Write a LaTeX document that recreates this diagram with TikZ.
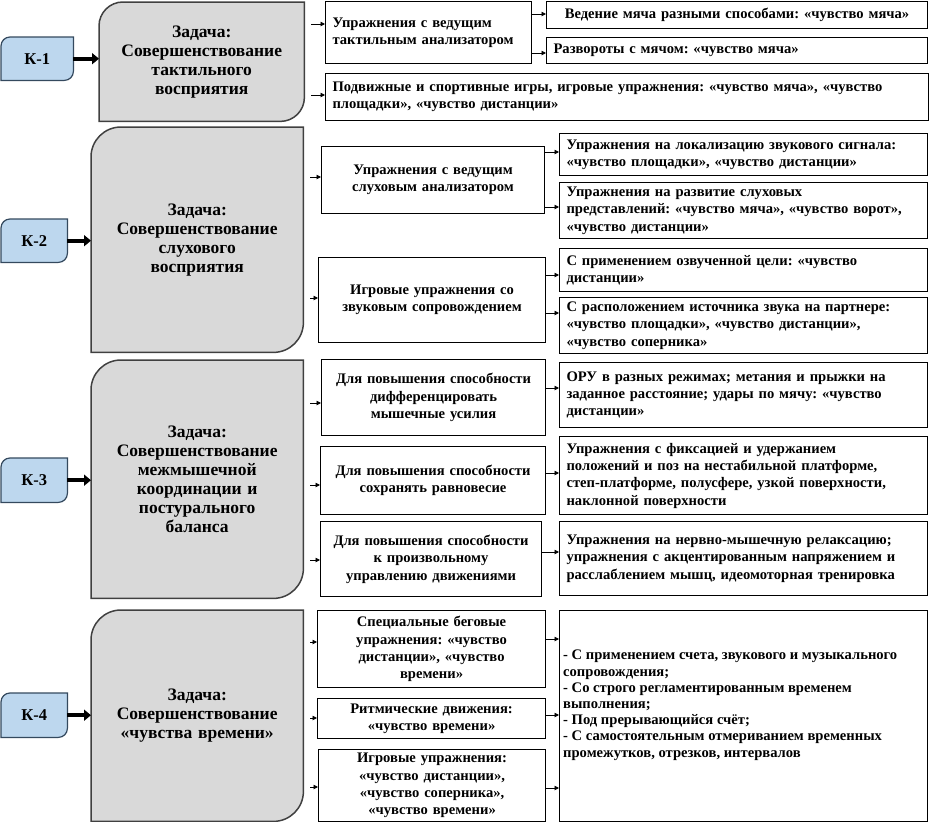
\documentclass[tikz,border=0pt]{standalone}
\usepackage{fontspec}
\setmainfont{Liberation Serif}
\usetikzlibrary{arrows.meta,backgrounds}
\frenchspacing
\definecolor{kblue}{HTML}{BDD7EE}
\definecolor{kedge}{HTML}{34495E}
\definecolor{tgray}{HTML}{D9D9D9}
\definecolor{tedge}{HTML}{404040}
\newcommand{\mkbox}[7]{%
 \pgfmathsetmacro{\mybw}{#4-#2}\pgfmathsetmacro{\mybh}{#5-#3}\pgfmathsetmacro{\mytw}{#4-#2-14}%
 \node[#6, minimum width=\mybw pt, minimum height=\mybh pt, text width=\mytw pt] (#1) at (#2,#3) {#7};}
\begin{document}
\begin{tikzpicture}[x=1pt,y=-1pt,
 box/.style={draw=black,line width=1.1pt,fill=white,inner sep=0pt,anchor=north west,
   font=\bfseries\fontsize{14.6}{17.3}\selectfont},
 lbox/.style={box,align=left},
 cbox/.style={box,align=center},
 task/.style={draw=none,inner sep=0pt,anchor=north west,align=center,
   font=\bfseries\fontsize{17.5}{19}\selectfont},
 kbox/.style={draw=none,inner sep=0pt,anchor=north west,align=center,
   font=\bfseries\fontsize{16.5}{18}\selectfont},
 tshape/.style={draw=tedge,fill=tgray,line width=1.5pt},
 kshape/.style={draw=kedge,fill=kblue,line width=1.2pt},
 big/.style={line width=4pt,-{Triangle[length=7pt,width=11pt]}},
 arr/.style={line width=0.9pt,-{Triangle[length=4.5pt,width=4.5pt]}}
]
\useasboundingbox (0,0) rectangle (930,822);

% K boxes
\mkbox{K1}{1}{37}{73}{80}{kbox}{К-1}
\mkbox{K2}{1}{219}{67}{262}{kbox}{К-2}
\mkbox{K3}{1}{458}{67}{502}{kbox}{К-3}
\mkbox{K4}{1}{693}{67}{737}{kbox}{К-4}

% task boxes
\mkbox{T1}{99}{2}{304}{121}{task}{Задача:\\Совершенствование\\тактильного\\восприятия}
\mkbox{T2}{91}{127}{303}{352}{task}{Задача:\\Совершенствование\\слухового\\восприятия}
\mkbox{T3}{91}{360}{303}{598}{task}{Задача:\\Совершенствование\\межмышечной\\координации и\\постурального\\баланса}
\mkbox{T4}{91}{610}{303}{821}{task}{Задача:\\Совершенствование\\«чувства времени»}

\begin{scope}[on background layer]
\foreach \n/\r in {T1/24,T2/30,T3/30,T4/30}{
 \draw[tshape] (\n.south west) -- ([yshift=-\r pt]\n.north west) to[out=90,in=180] ([xshift=\r pt]\n.north west)
   -- (\n.north east) -- ([yshift=\r pt]\n.south east) to[out=-90,in=0] ([xshift=-\r pt]\n.south east) -- cycle;}
\foreach \n/\r in {K1/9,K2/9,K3/9,K4/9}{
 \draw[kshape] (\n.south west) -- ([yshift=-\r pt]\n.north west) to[out=90,in=180] ([xshift=\r pt]\n.north west)
   -- (\n.north east) -- ([yshift=\r pt]\n.south east) to[out=-90,in=0] ([xshift=-\r pt]\n.south east) -- cycle;}
\end{scope}

% row 1
\mkbox{A1}{325}{1}{531}{63}{lbox}{Упражнения с ведущим\\тактильным анализатором}
\mkbox{A1a}{546}{1}{927}{28}{cbox}{Ведение мяча разными способами: «чувство мяча»}
\mkbox{A1b}{546}{37}{927}{63}{lbox}{Развороты с мячом: «чувство мяча»}
\mkbox{A2}{325}{73}{928}{120}{lbox}{Подвижные и спортивные игры, игровые упражнения: «чувство мяча», «чувство\\площадки», «чувство дистанции»}

% row 2
\mkbox{B1}{321}{146}{544}{213}{cbox}{Упражнения с ведущим\\слуховым анализатором}
\mkbox{B1a}{559}{133}{927}{175}{lbox}{Упражнения на локализацию звукового сигнала:\\«чувство площадки», «чувство дистанции»}
\mkbox{B1b}{559}{182}{927}{238}{lbox}{Упражнения на развитие слуховых\\представлений: «чувство мяча», «чувство ворот»,\\«чувство дистанции»}
\mkbox{B2}{318}{257}{545}{342}{cbox}{Игровые упражнения со\\звуковым сопровождением}
\mkbox{B2a}{559}{248}{927}{291}{lbox}{С применением озвученной цели: «чувство\\дистанции»}
\mkbox{B2b}{559}{297}{927}{353}{lbox}{С расположением источника звука на партнере:\\«чувство площадки», «чувство дистанции»,\\«чувство соперника»}

% row 3
\mkbox{C1}{321}{359}{545}{435}{cbox}{Для повышения способности\\дифференцировать\\мышечные усилия}
\mkbox{C1a}{559}{362}{927}{427}{lbox}{ОРУ в разных режимах; метания и прыжки на\\заданное расстояние; удары по мячу: «чувство\\дистанции»}
\mkbox{C2}{320}{446}{545}{514}{cbox}{Для повышения способности\\сохранять равновесие}
\mkbox{C2a}{559}{436}{927}{514}{lbox}{Упражнения с фиксацией и удержанием\\положений и поз на нестабильной платформе,\\степ-платформе, полусфере, узкой поверхности,\\наклонной поверхности}
\mkbox{C3}{320}{521}{541}{596}{cbox}{Для повышения способности\\к произвольному\\управлению движениями}
\mkbox{C3a}{559}{521}{927}{595}{lbox}{Упражнения на нервно-мышечную релаксацию;\\упражнения с акцентированным напряжением и\\расслаблением мышц, идеомоторная тренировка}

% row 4
\mkbox{D1}{317}{610}{545}{687}{cbox}{Специальные беговые\\упражнения: «чувство\\дистанции», «чувство\\времени»}
\mkbox{D2}{317}{698}{545}{738}{cbox}{Ритмические движения:\\«чувство времени»}
\mkbox{D3}{318}{749}{545}{821}{cbox}{Игровые упражнения:\\«чувство дистанции»,\\«чувство соперника»,\\«чувство времени»}
\mkbox{DR}{559}{610}{927}{821}{lbox}{}
\node[anchor=north west,inner sep=0pt,align=left,font=\bfseries\fontsize{14.6}{16.2}\selectfont] (DRt)
  at ([shift={(4pt,-40pt)}]DR.north west)
  {- С применением счета, звукового и музыкального\\сопровождения;\\- Со строго регламентированным временем\\выполнения;\\- Под прерывающийся счёт;\\- С самостоятельным отмериванием временных\\промежутков, отрезков, интервалов};

% thick arrows
\foreach \k/\t in {K1/T1,K2/T2,K3/T3,K4/T4}
 \draw[big] (\k.east) -- (\t.west |- \k.east);

% arrows from task boxes
\foreach \t/\b/\y in {T1/A1/24,T1/A2/95,T2/B1/177,T2/B2/298,T3/C1/403,T3/C2/485,T3/C3/560,T4/D1/642,T4/D2/718,T4/D3/787}
 \draw[arr] ([xshift=7pt]\t.east |- 0,\y) -- (\b.west |- 0,\y);

% arrows from middle to right column
\foreach \a/\b/\y in {A1/A1a/14,A1/A1b/53,B1/B1a/152,B1/B1b/207,B2/B2a/275,B2/B2b/313,C1/C1a/388,C2/C2a/473,C3/C3a/552,D1/DR/639,D2/DR/715,D3/DR/788}
 \draw[arr] (\a.east |- 0,\y) -- (\b.west |- 0,\y);
\end{tikzpicture}
\end{document}
